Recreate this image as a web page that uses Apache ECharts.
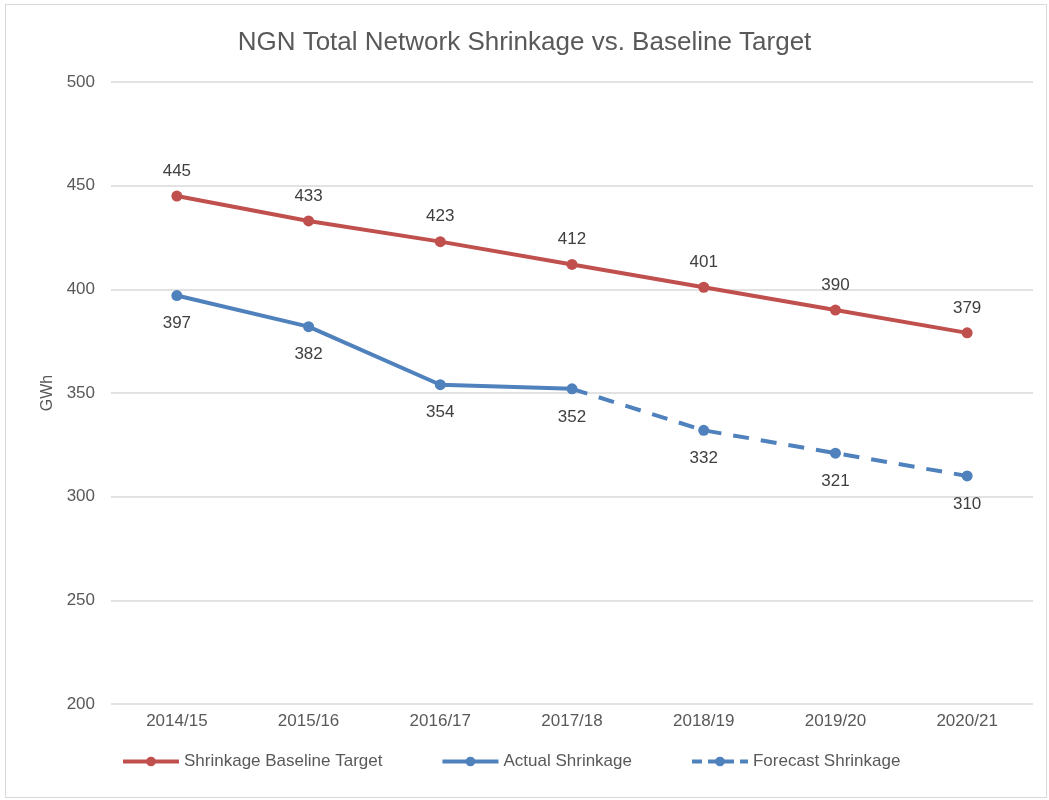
<!DOCTYPE html>
<html>
<head>
<meta charset="utf-8">
<script src="https://cdn.jsdelivr.net/npm/echarts@6/dist/echarts.min.js"></script>
<style>
  html, body { margin: 0; padding: 0; background: #fff; }
  #wrap { position: absolute; left: 5px; top: 4px; width: 1042px; height: 794px; border: 1px solid #d9d9d9; box-sizing: border-box; }
  #main { width: 1049px; height: 800px; position: absolute; left: 0; top: 0; }
</style>
</head>
<body>
<div id="wrap"></div>
<div id="main"></div>
<script>
// 数据
const categories = ['2014/15', '2015/16', '2016/17', '2017/18', '2018/19', '2019/20', '2020/21'];
const baselineTarget = [445, 433, 423, 412, 401, 390, 379];
const actualShrinkage = [397, 382, 354, 352, null, null, null];
const forecastShrinkage = [null, null, null, 352, 332, 321, 310];

const RED = '#c0504d';
const BLUE = '#4f81bd';
const FONT = 'Liberation Sans';

const chart = echarts.init(document.getElementById('main'), null, { renderer: 'canvas' });

// 预测序列第一个点与实际序列重合，不显示标记和标签
const forecastData = forecastShrinkage.map((v, i) => {
  if (i === 3) return { value: v, symbol: 'none', label: { show: false } };
  return v;
});

const labelStyle = { show: true, color: '#404040', fontSize: 17, fontFamily: FONT };

chart.setOption({
  animation: false,
  textStyle: { fontFamily: FONT },
  title: {
    text: 'NGN Total Network Shrinkage vs. Baseline Target',
    left: 'center',
    top: 25,
    textStyle: { fontFamily: FONT, fontSize: 26, fontWeight: 'normal', color: '#595959' }
  },
  grid: { left: 111, right: 16, top: 82, bottom: 96 },
  legend: {
    bottom: 25,
    left: 116,
    itemWidth: 56,
    itemHeight: 12,
    itemGap: 58,
    lineStyle: { width: 4 },
    textStyle: { color: '#595959', fontSize: 17, fontFamily: FONT },
    data: [
      'Shrinkage Baseline Target',
      'Actual Shrinkage',
      { name: 'Forecast Shrinkage', lineStyle: { type: [10, 6], width: 4 } }
    ]
  },
  xAxis: {
    type: 'category',
    data: categories,
    boundaryGap: true,
    axisLine: { show: false },
    axisTick: { show: false },
    axisLabel: { color: '#595959', fontSize: 17, margin: 9 }
  },
  yAxis: {
    type: 'value',
    min: 200,
    max: 500,
    interval: 50,
    name: 'GWh',
    nameLocation: 'middle',
    nameGap: 55,
    nameTextStyle: { color: '#595959', fontSize: 16 },
    axisLine: { show: false },
    axisTick: { show: false },
    axisLabel: { color: '#595959', fontSize: 17, margin: 16 },
    splitLine: { lineStyle: { color: '#d9d9d9', width: 1.5 } }
  },
  series: [
    {
      name: 'Shrinkage Baseline Target',
      type: 'line',
      data: baselineTarget,
      symbol: 'circle',
      symbolSize: 11,
      itemStyle: { color: RED },
      lineStyle: { color: RED, width: 4 },
      label: Object.assign({ position: 'top', distance: 11 }, labelStyle)
    },
    {
      name: 'Actual Shrinkage',
      type: 'line',
      data: actualShrinkage,
      symbol: 'circle',
      symbolSize: 11,
      itemStyle: { color: BLUE },
      lineStyle: { color: BLUE, width: 4 },
      label: Object.assign({ position: 'bottom', distance: 14 }, labelStyle),
      z: 3
    },
    {
      name: 'Forecast Shrinkage',
      type: 'line',
      data: forecastData,
      symbol: 'circle',
      symbolSize: 11,
      itemStyle: { color: BLUE },
      lineStyle: { color: BLUE, width: 4, type: [16, 12] },
      label: Object.assign({ position: 'bottom', distance: 14 }, labelStyle),
      z: 2
    }
  ]
});
</script>
</body>
</html>
